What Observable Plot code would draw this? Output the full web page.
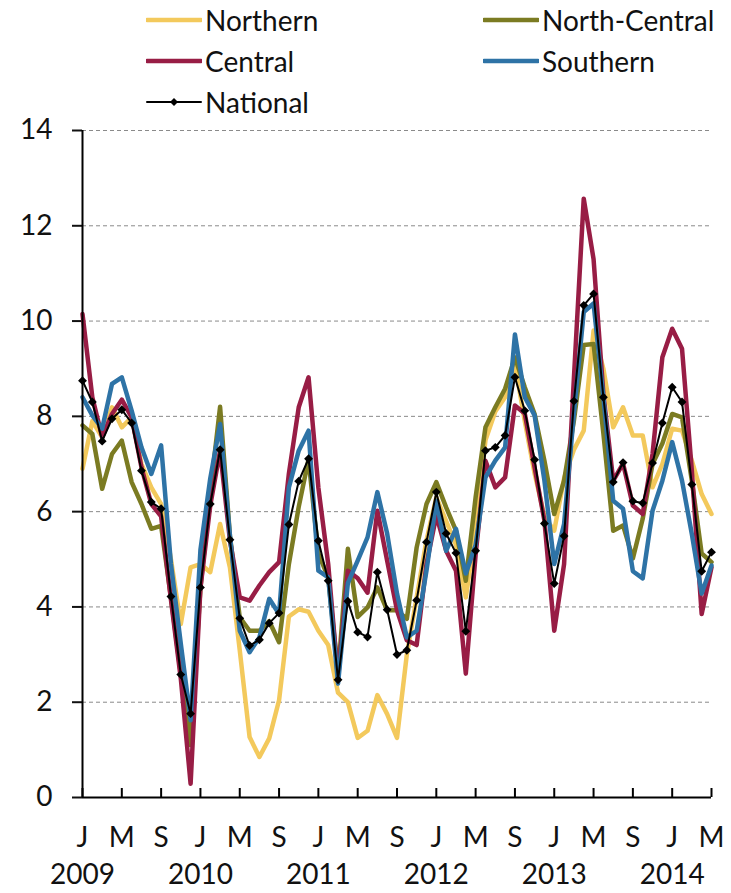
<!DOCTYPE html>
<html><head><meta charset="utf-8">
<script src="https://cdn.jsdelivr.net/npm/d3@7"></script>
<script src="https://cdn.jsdelivr.net/npm/@observablehq/plot@0.6"></script>
<style>
body{margin:0;background:#fff;}
#wrap{position:relative;width:731px;height:893px;font-family:Lato, sans-serif;}
#legend{position:absolute;left:0;top:0;width:731px;height:120px;}
.item{position:absolute;display:flex;align-items:center;font-size:28px;color:#111;white-space:nowrap;height:40px;}
.item svg{margin-right:3px;}
</style></head><body><div id="wrap"><div id="legend"></div></div>
<script>
const startYear = 2009;
const seriesNames = ["Northern","North-Central","Central","Southern","National"];
const seriesColors = ["#F3C95C","#7B7B22","#981D45","#2E73A6","#000000"];
const northern = [6.9,7.9,7.56,8.19,7.77,7.98,7.0,6.51,6.16,5.0,3.64,4.83,4.9,4.73,5.74,4.83,3.09,1.27,0.85,1.24,2.04,3.8,3.95,3.9,3.5,3.2,2.2,2.0,1.25,1.4,2.15,1.75,1.25,3.0,4.2,5.4,6.3,5.8,5.3,4.2,5.6,7.5,8.1,8.4,9.1,7.9,6.8,5.9,5.6,6.7,7.3,7.7,9.8,9.0,7.77,8.19,7.6,7.6,6.51,7.0,7.74,7.7,7.07,6.37,5.95];
const northCentral = [7.81,7.63,6.48,7.21,7.49,6.62,6.16,5.64,5.7,4.2,2.6,1.1,4.4,6.4,8.2,5.5,3.78,3.5,3.5,3.7,3.26,4.9,6.1,7.1,5.12,4.62,2.6,5.22,3.79,3.99,4.41,3.93,3.93,3.75,5.25,6.16,6.62,6.09,5.6,4.55,6.3,7.77,8.19,8.58,9.24,8.61,8.05,7.07,5.95,6.65,7.91,9.5,9.52,7.64,5.6,5.71,5.02,5.85,7.0,7.43,8.05,7.98,6.65,5.12,4.94];
const central = [10.15,8.4,7.56,8.05,8.35,7.98,6.93,6.16,5.9,4.15,2.5,0.29,4.4,6.13,7.28,5.4,4.2,4.13,4.45,4.73,4.94,6.8,8.19,8.82,6.5,4.9,2.5,4.76,4.6,4.3,6.02,4.97,3.93,3.3,3.2,4.9,5.92,5.18,4.76,2.6,5.1,7.07,6.51,6.72,8.23,8.06,6.93,5.81,3.5,4.9,8.8,12.57,11.3,8.47,6.65,7.01,6.13,5.95,7.21,9.24,9.84,9.42,6.86,3.85,4.83];
const southern = [8.4,8.02,7.74,8.68,8.82,8.12,7.35,6.79,7.39,4.9,3.23,1.62,5.2,6.7,7.84,5.5,3.5,3.05,3.36,4.17,3.85,6.51,7.28,7.70,4.76,4.62,2.39,4.5,4.97,5.46,6.41,5.54,4.28,3.36,3.5,4.76,6.23,5.18,5.64,4.7,5.3,6.72,7.07,7.35,9.72,8.4,8.02,6.65,4.9,5.74,8.06,10.19,10.37,8.4,6.23,6.06,4.75,4.6,6.02,6.65,7.46,6.65,5.53,4.28,4.87];
const national = [8.75,8.30,7.48,7.95,8.14,7.86,6.86,6.20,6.06,4.22,2.58,1.76,4.41,6.16,7.30,5.41,3.76,3.19,3.31,3.66,3.87,5.73,6.64,7.11,5.39,4.55,2.47,4.12,3.47,3.37,4.73,3.94,3.00,3.09,4.14,5.36,6.41,5.54,5.13,3.49,5.18,7.28,7.35,7.60,8.82,8.12,7.09,5.75,4.49,5.49,8.32,10.33,10.57,8.40,6.62,7.03,6.22,6.18,7.02,7.86,8.61,8.30,6.57,4.75,5.15];
const yTicks = [0,2,4,6,8,10,12,14];
const monthTickLabels = ["J","M","S"];
const yearLabels = ["2009","2010","2011","2012","2013","2014"];

const seriesValues = [northern, northCentral, central, southern, national];
const rowsFor = vals => vals.map((v, i) => ({i, v}));
const lastIndex = national.length - 1;
const monthTicks = d3.range(0, lastIndex + 1, 4);
const yearTicks = yearLabels.map((y) => (+y - startYear) * 12);

const W = 731, H = 893, mT = 130, mB = 96, mL = 82, mR = 20;
const plotH = H - mT - mB;

const marks = [
  Plot.gridY(yTicks.filter(d => d > 0), {stroke: "#8a8a8a", strokeOpacity: 1, strokeWidth: 1, strokeDasharray: "4,3"}),
  Plot.axisY(yTicks, {tickSize: 10, tickPadding: 20, strokeWidth: 2, label: null, fontSize: 28}),
  Plot.axisX(monthTicks, {tickSize: 0, tickPadding: 30, label: null, fontSize: 28, tickFormat: d => monthTickLabels[(d / 4) % 3]}),
  Plot.axisX(yearTicks, {tickSize: 0, tickPadding: 67, label: null, fontSize: 28, tickFormat: d => yearLabels[d / 12]}),
  Plot.tickX(monthTicks, {x: d => d, insetTop: plotH - 9, stroke: "#000", strokeWidth: 2})
];
for (let s = 0; s < 4; s++) {
  marks.push(Plot.line(rowsFor(seriesValues[s]), {x: "i", y: "v", stroke: seriesColors[s], strokeWidth: 4.5, strokeLinejoin: "round", strokeLinecap: "round"}));
}
marks.push(Plot.line(rowsFor(national), {x: "i", y: "v", stroke: "#000", strokeWidth: 2}));
marks.push(Plot.dot(rowsFor(national), {x: "i", y: "v", symbol: "diamond2", r: 4, fill: "#000", stroke: "none"}));
marks.push(Plot.ruleX([0], {stroke: "#000", strokeWidth: 2}));
marks.push(Plot.ruleY([0], {stroke: "#000", strokeWidth: 2}));

const chart = Plot.plot({
  width: W, height: H,
  marginTop: mT, marginBottom: mB, marginLeft: mL, marginRight: mR,
  x: {domain: [0, lastIndex]},
  y: {domain: [0, 14]},
  style: {fontFamily: "Lato, sans-serif", fontSize: "28px", color: "#111", background: "#fff", overflow: "visible"},
  marks
});
document.getElementById("wrap").prepend(chart);

// legend
const legend = document.getElementById("legend");
const legendPos = [[146, 0], [483, 0], [146, 41], [483, 41], [146, 82]];
seriesNames.forEach((name, k) => {
  const div = document.createElement("div");
  div.className = "item";
  div.style.left = legendPos[k][0] + "px";
  div.style.top = legendPos[k][1] + "px";
  const ns = "http://www.w3.org/2000/svg";
  const sv = document.createElementNS(ns, "svg");
  sv.setAttribute("width", 56); sv.setAttribute("height", 12);
  const ln = document.createElementNS(ns, "line");
  ln.setAttribute("x1", 1); ln.setAttribute("x2", 55); ln.setAttribute("y1", 6); ln.setAttribute("y2", 6);
  ln.setAttribute("stroke", seriesColors[k]);
  ln.setAttribute("stroke-width", k === 4 ? 2 : 4.5);
  ln.setAttribute("stroke-linecap", "round");
  sv.appendChild(ln);
  if (k === 4) {
    const p = document.createElementNS(ns, "path");
    p.setAttribute("d", "M28,2L32,6L28,10L24,6Z");
    p.setAttribute("fill", "#000");
    sv.appendChild(p);
  }
  div.appendChild(sv);
  const t = document.createElement("span");
  t.textContent = name;
  div.appendChild(t);
  legend.appendChild(div);
});
</script></body></html>
